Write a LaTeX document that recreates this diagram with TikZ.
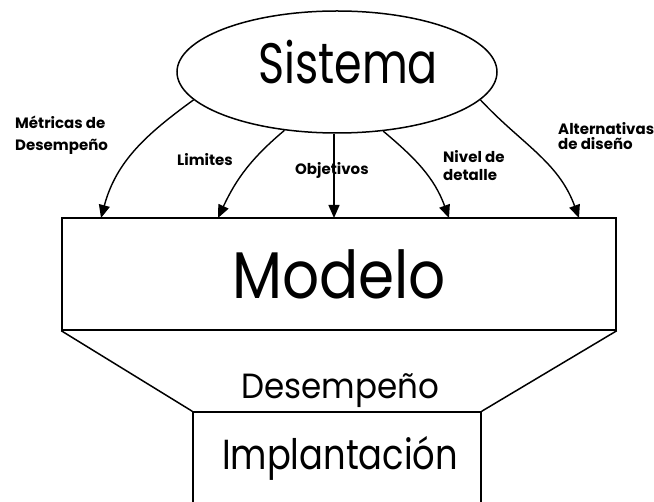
\documentclass[tikz,border=0pt]{standalone}
\usepackage{fontspec}
\setmainfont{Poppins}
\usetikzlibrary{shapes.geometric,arrows.meta}
\begin{document}
\begin{tikzpicture}[x=1pt,y=-1pt,
  box/.style={draw,line width=1.5pt,inner sep=0pt},
  arr/.style={line width=1.4pt,-{Triangle[length=13pt,width=11pt]}},
  big/.style={inner sep=0pt,font=\fontsize{#1}{#1}\selectfont},
  lbl/.style={inner sep=0pt,align=left,anchor=base west,font=\bfseries\fontsize{15}{#1}\selectfont}]
\useasboundingbox (0,0) rectangle (654,502);
\clip (0,0) rectangle (654,502);
\fill[white] (0,0) rectangle (654,502);
% shapes
\node[box,ellipse,minimum width=320pt,minimum height=122pt] (sis) at (337,72) {};
\node[big=57] (sistxt) at (348,62) {\scalebox{0.78}[1]{Sistema}};
\node[box,rectangle,minimum width=554pt,minimum height=112pt,font=\fontsize{66}{66}\selectfont] (mod) at (339,274) {\scalebox{0.88}[1]{Modelo}};
\node[box,rectangle,minimum width=288pt,minimum height=130pt] (imp) at (337,477) {};
\node[big=42] (imptxt) at (340,458) {\scalebox{0.84}[1]{Implantación}};
\node[big=35] (des) at (340,391) {\scalebox{0.93}[1]{Desempeño}};
\draw[line width=1.5pt] (mod.south west) -- (imp.north west);
\draw[line width=1.5pt] (mod.south east) -- (imp.north east);
% targets
\coordinate (m1) at (101,218);
\coordinate (m2) at (218,218);
\coordinate (m3) at (334,218);
\coordinate (m4) at (449,218);
\coordinate (m5) at (579,218);
% arrows
\draw[arr] (sis.191) to[out=216,in=75] (m1);
\draw[arr] (sis.228) to[out=220,in=65] (m2);
\draw[arr] (sis.south -| m3) -- (m3);
\draw[arr] (sis.308) to[out=-40,in=110] (m4);
\draw[arr] (sis.349) to[out=-47,in=110] (m5);
% labels
\node[lbl=22] (l1) at (15,151) {Métricas de\\Desempeño};
\node[lbl=18] (l2) at (177,166) {Limites};
\node[lbl=18] (l3) at (295,175) {Objetivos};
\node[lbl=18] (l4) at (443,181) {Nivel de\\detalle};
\node[lbl=15] (l5) at (558,150) {Alternativas\\de diseño};
\end{tikzpicture}
\end{document}
